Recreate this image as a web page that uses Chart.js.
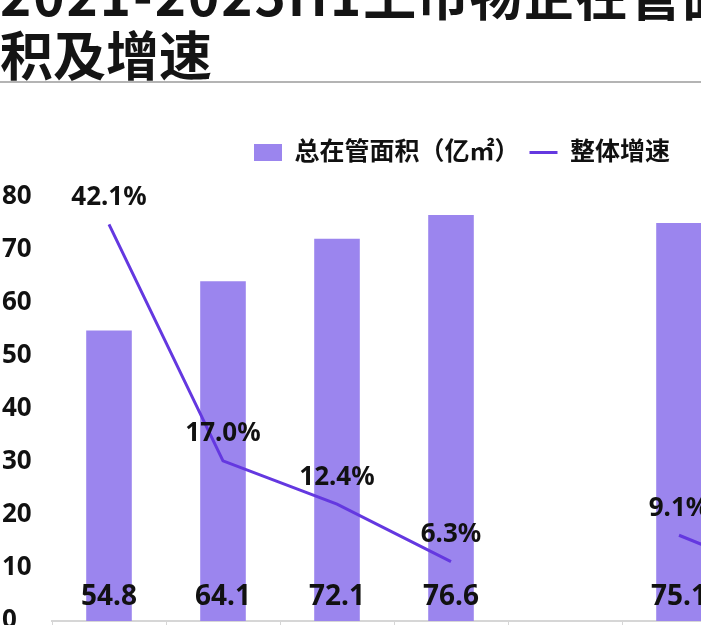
<!DOCTYPE html>
<html>
<head>
<meta charset="utf-8">
<script src="https://cdn.jsdelivr.net/npm/chart.js@4.4.1/dist/chart.umd.min.js"></script>
<style>
  html, body { margin: 0; padding: 0; background: #fff; overflow: hidden; }
  body { width: 701px; height: 625px; position: relative; }
  .title {
    position: absolute; left: 0; top: -37px; width: 800px;
    font-family: "Noto Sans CJK SC", sans-serif; font-weight: 700;
    font-size: 53px; line-height: 60px; color: #141414; white-space: nowrap;
  }
  .title .num { letter-spacing: 2px; }
  .rule { position: absolute; left: 0; top: 81px; width: 701px; height: 0; border-top: 2px solid #b4b4b4; }
  #chart { position: absolute; left: 0; top: 84px; }
</style>
</head>
<body>
<div class="title"><span class="num">2021-2025H1</span>上市物企在管面<br>积及增速</div>
<div class="rule"></div>
<canvas id="chart" width="922" height="640"></canvas>
<script>
var categories = ["2021", "2022", "2023", "2024", "", "2024H1", "2025H1"];
var areaValues = [54.8, 64.1, 72.1, 76.6, null, 75.1, 78.3];
var growthValues = [42.1, 17.0, 12.4, 6.3, null, 9.1, 4.2];
var yTicks = [0, 10, 20, 30, 40, 50, 60, 70, 80];

var FONT = "'Noto Sans', 'Noto Sans CJK SC', sans-serif";

// value labels: area inside the bar foot, growth above each point
var valueLabels = {
  id: "valueLabels",
  afterDatasetsDraw: function (chart) {
    var ctx = chart.ctx;
    ctx.save();
    ctx.fillStyle = "#111";
    ctx.textAlign = "center";
    ctx.textBaseline = "middle";
    chart.getDatasetMeta(0).data.forEach(function (bar, i) {
      if (areaValues[i] == null) return;
      ctx.font = "bold 28px " + FONT;
      ctx.fillText(areaValues[i].toFixed(1), bar.x, chart.chartArea.bottom - 24);
    });
    chart.getDatasetMeta(1).data.forEach(function (pt, i) {
      if (growthValues[i] == null) return;
      ctx.font = "bold 26px " + FONT;
      ctx.fillText(growthValues[i].toFixed(1) + "%", pt.x, pt.y - 27);
    });
    ctx.restore();
  }
};

var legendSpace = {
  id: "legendSpace",
  beforeInit: function (chart) {
    var fit = chart.legend.fit;
    chart.legend.fit = function () {
      fit.bind(chart.legend)();
      this.height += 22;
    };
  }
};

var ctx = document.getElementById("chart").getContext("2d");
var chart = new Chart(ctx, {
  type: "bar",
  data: {
    labels: categories,
    datasets: [
      {
        label: "总在管面积（亿㎡）",
        data: areaValues,
        backgroundColor: "#9b85ee",
        borderWidth: 0,
        barPercentage: 0.4,
        categoryPercentage: 1,
        pointStyle: "rect",
        yAxisID: "y",
      },
      {
        label: "整体增速",
        type: "line",
        data: growthValues,
        borderColor: "#6438e0",
        backgroundColor: "#6438e0",
        borderWidth: 3,
        pointRadius: 0,
        pointStyle: "line",
        tension: 0,
        spanGaps: false,
        fill: false,
        order: -1,
        yAxisID: "y2",
      },
    ],
  },
  options: {
    responsive: false,
    animation: false,
    layout: { padding: { top: 46, left: 2, right: 0, bottom: 0 } },
    plugins: {
      tooltip: { enabled: false },
      legend: {
        position: "top",
        labels: {
          usePointStyle: true,
          pointStyleWidth: 28,
          boxHeight: 17,
          padding: 10,
          color: "#111",
          font: { family: FONT, size: 25, weight: "bold" },
          sort: function (a, b) { return a.datasetIndex - b.datasetIndex; },
        },
      },
    },
    scales: {
      x: {
        offset: true,
        border: { display: true, color: "#d6d6d6", width: 2 },
        grid: { display: true, drawOnChartArea: false, drawTicks: true, tickLength: 6, color: "#d6d6d6", offset: true },
        ticks: { color: "#111", font: { family: FONT, size: 22, weight: "bold" } },
        afterFit: function (scale) { scale.height = 103; },
      },
      y: {
        min: 0,
        max: 80,
        afterBuildTicks: function (scale) {
          scale.ticks = yTicks.map(function (v) { return { value: v }; });
        },
        border: { display: false },
        grid: { display: false },
        ticks: {
          crossAlign: "far",
          color: "#111",
          font: { family: FONT, size: 26, weight: "bold" },
        },
        afterFit: function (scale) { scale.width = 50; },
      },
      y2: {
        position: "right",
        min: 0,
        max: 45,
        border: { display: false },
        grid: { display: false },
        ticks: { display: false },
        afterFit: function (scale) { scale.width = 72; },
      },
    },
  },
  plugins: [valueLabels, legendSpace],
});
</script>
</body>
</html>
